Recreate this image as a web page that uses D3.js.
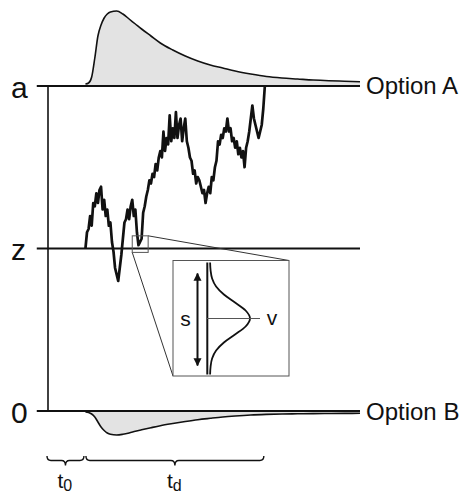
<!DOCTYPE html>
<html>
<head>
<meta charset="utf-8">
<script src="https://cdn.jsdelivr.net/npm/d3@7"></script>
<style>
  html, body { margin: 0; padding: 0; background: #fff; }
  svg { display: block; font-family: "Liberation Sans", Arial, Helvetica, sans-serif; }
</style>
</head>
<body>
<svg id="chart" width="463" height="494"></svg>
<script>
// ---------------- data ----------------
const boundaryLabels = ["a", "z", "0"];
const boundaryValues = [100, 50, 0];          // evidence level of each boundary
const optionLabels = ["Option A", "Option B"];
const nonDecisionTime = 12;                    // t0 (time units)
const walkStart = 12;
const walkStep = 0.5;
const walkValues = [
  50,55,56,60,57,64,63,67,64,68,
  69,62,65,60,62,57,58,52,49,44,
  42,40,44,48,53,58,59,62,59,63,
  65,60,62,55,51,52,53,61,63,66,
  68,71,70,73,72,76,74,78,80,78,
  86,80,84,82,91,83,87,84,92,84,
  88,90,83,87,90,83,81,78,77,73,
  74,70,72,71,69,67,68,64,67,69,
  67,72,71,75,77,83,82,85,84,87,
  86,90,86,87,83,84,81,83,79,81,
  78,80,75,81,83,86,90,94,90,88,
  86,84,86,88,93,100
];
const densTimes = [12,13,14,15,16,17,18,19,20,22,24,26,28,30,33,36,40,44,48,52,56,60,65,70,75,80,85,90,95,100];
const densA = [2,3,9,28,50,61,68,72,74,75,72,67,62,57,50,43,36,30,25,21,18,15,12,9.5,8,7,6,5.3,4.8,4.3];
const densB = [1,1.5,3,6,11,16,19.5,22,23.3,24,23.3,22,20.3,18.8,16.7,14.7,12.5,10.5,8.7,7.3,6,5,4,3.4,3,2.8,2.6,2.5,2.4,2.3];
const zoomWindow = { t0: 27, t1: 32.1, e0: 48.8, e1: 53.9 };
const driftOffsets = [-56,-48,-40,-32,-24,-16,-8,0,8,16,24,32,40,48,56];
const driftDensity = [0.1,0.6,2.1,6.1,13.9,25,35.6,40,35.6,25,13.9,6.1,2.1,0.6,0.1];
const driftMean = 50;
const sRange = [-45, 47];
const insetLabels = ["s", "v"];
const timeLabels = [["t", "0"], ["t", "d"]];

// ---------------- scales ----------------
const svg = d3.select("#chart");
const x = d3.scaleLinear().domain([0, 100]).range([48, 360]);
const y = d3.scaleLinear().domain([0, 100]).range([411, 86]);
const dens = d3.scaleLinear().domain([0, 75]).range([0, 75]);

// ---------------- densities ----------------
const topBase = y(100), botBase = y(0);
const areaA = d3.area().x((d, i) => x(densTimes[i])).y0(topBase).y1(d => topBase - dens(d)).curve(d3.curveMonotoneX);
const lineA = d3.line().x((d, i) => x(densTimes[i])).y(d => topBase - dens(d)).curve(d3.curveMonotoneX);
const areaB = d3.area().x((d, i) => x(densTimes[i])).y0(botBase).y1(d => botBase + dens(d)).curve(d3.curveMonotoneX);
const lineB = d3.line().x((d, i) => x(densTimes[i])).y(d => botBase + dens(d)).curve(d3.curveMonotoneX);

svg.append("path").attr("d", areaA(densA)).attr("fill", "#e3e3e3");
svg.append("path").attr("d", areaB(densB)).attr("fill", "#e3e3e3");
svg.append("path").attr("d", lineA(densA)).attr("fill", "none").attr("stroke", "#111").attr("stroke-width", 1.6);
svg.append("path").attr("d", lineB(densB)).attr("fill", "none").attr("stroke", "#111").attr("stroke-width", 1.6);

// ---------------- boundaries ----------------
svg.append("line").attr("x1", x(0)).attr("x2", x(0)).attr("y1", y(100)).attr("y2", y(0))
  .attr("stroke", "#111").attr("stroke-width", 1.6);
boundaryValues.forEach((v, i) => {
  svg.append("line").attr("x1", x(-3.6)).attr("x2", x(100)).attr("y1", y(v)).attr("y2", y(v))
    .attr("stroke", "#111").attr("stroke-width", 2);
});
const labelBaselines = [11.5, 11, 11.5];
boundaryLabels.forEach((l, i) => {
  svg.append("text").attr("x", 11).attr("y", y(boundaryValues[i]) + labelBaselines[i])
    .attr("font-size", 30).attr("fill", "#111").text(l);
});
svg.append("text").attr("x", 366).attr("y", y(100) + 7.5).attr("font-size", 24).attr("fill", "#111").text(optionLabels[0]);
svg.append("text").attr("x", 366).attr("y", y(0) + 8.5).attr("font-size", 24).attr("fill", "#111").text(optionLabels[1]);

// ---------------- zoom window + connectors ----------------
const box = { x0: 173, y0: 260.5, x1: 289, y1: 376 };
const zx0 = x(zoomWindow.t0), zx1 = x(zoomWindow.t1), zy0 = y(zoomWindow.e1), zy1 = y(zoomWindow.e0);
svg.append("line").attr("x1", zx1).attr("y1", zy0).attr("x2", box.x1).attr("y2", box.y0).attr("stroke", "#333").attr("stroke-width", 1);
svg.append("line").attr("x1", zx0).attr("y1", zy1).attr("x2", box.x0).attr("y2", box.y1).attr("stroke", "#333").attr("stroke-width", 1);

// ---------------- random walk ----------------
const walkLine = d3.line().x((d, i) => x(walkStart + i * walkStep)).y(d => y(d));
svg.append("path").attr("d", walkLine(walkValues)).attr("fill", "none")
  .attr("stroke", "#111").attr("stroke-width", 2.7).attr("stroke-linejoin", "round");

svg.append("rect").attr("x", zx0).attr("y", zy0).attr("width", zx1 - zx0).attr("height", zy1 - zy0)
  .attr("fill", "none").attr("stroke", "#555").attr("stroke-width", 1);

// ---------------- inset ----------------
svg.append("rect").attr("x", box.x0).attr("y", box.y0).attr("width", box.x1 - box.x0).attr("height", box.y1 - box.y0)
  .attr("fill", "#fff").attr("stroke", "#555").attr("stroke-width", 1);
const ix = d3.scaleLinear().domain([0, 40]).range([210, 250]);
const iy = d3.scaleLinear().domain([-56, 56]).range([262.5, 374.5]);
svg.append("line").attr("x1", 207.3).attr("x2", 207.3).attr("y1", iy(-56)).attr("y2", iy(56)).attr("stroke", "#111").attr("stroke-width", 2);
const gLine = d3.line().x(d => ix(d)).y((d, i) => iy(driftOffsets[i])).curve(d3.curveMonotoneY);
svg.append("path").attr("d", gLine(driftDensity)).attr("fill", "none").attr("stroke", "#111").attr("stroke-width", 1.8);
svg.append("line").attr("x1", 207).attr("x2", ix(driftMean)).attr("y1", iy(0)).attr("y2", iy(0)).attr("stroke", "#555").attr("stroke-width", 1);

const defs = svg.append("defs");
defs.append("marker").attr("id", "ah").attr("viewBox", "0 0 10 10").attr("refX", 9).attr("refY", 5)
  .attr("markerWidth", 4).attr("markerHeight", 5).attr("markerUnits", "strokeWidth").attr("orient", "auto-start-reverse")
  .append("path").attr("d", "M0,0 L10,5 L0,10 Z").attr("fill", "#111");
svg.append("line").attr("x1", 197.5).attr("x2", 197.5).attr("y1", iy(sRange[0])).attr("y2", iy(sRange[1]))
  .attr("stroke", "#111").attr("stroke-width", 2).attr("marker-start", "url(#ah)").attr("marker-end", "url(#ah)");
svg.append("text").attr("x", 185.5).attr("y", iy(0) + 7).attr("text-anchor", "middle").attr("font-size", 21).attr("fill", "#111").text(insetLabels[0]);
svg.append("text").attr("x", 272).attr("y", iy(0) + 6.5).attr("text-anchor", "middle").attr("font-size", 21).attr("fill", "#111").text(insetLabels[1]);

// ---------------- braces ----------------
function brace(x0, x1, yTop, yLine, yTip) {
  const mid = (x0 + x1) / 2, r = 4;
  return `M${x0},${yTop} Q${x0},${yLine} ${x0 + r},${yLine} L${mid - r},${yLine} Q${mid},${yLine} ${mid},${yTip} ` +
         `Q${mid},${yLine} ${mid + r},${yLine} L${x1 - r},${yLine} Q${x1},${yLine} ${x1},${yTop}`;
}
const walkEnd = walkStart + (walkValues.length - 1) * walkStep;
const braces = [[x(0) - 1, x(nonDecisionTime) - 1.5], [x(nonDecisionTime) + 0.5, x(walkEnd) - 1]];
braces.forEach((b, i) => {
  svg.append("path").attr("d", brace(b[0], b[1], 456, 460.5, 465.5)).attr("fill", "none").attr("stroke", "#111").attr("stroke-width", 1.4);
  const cx = (b[0] + b[1]) / 2;
  const t = svg.append("text").attr("x", cx - 8).attr("y", 488).attr("font-size", 21).attr("fill", "#111");
  t.append("tspan").text(timeLabels[i][0]);
  t.append("tspan").attr("font-size", 16).attr("dy", 3).text(timeLabels[i][1]);
});
</script>
</body>
</html>
